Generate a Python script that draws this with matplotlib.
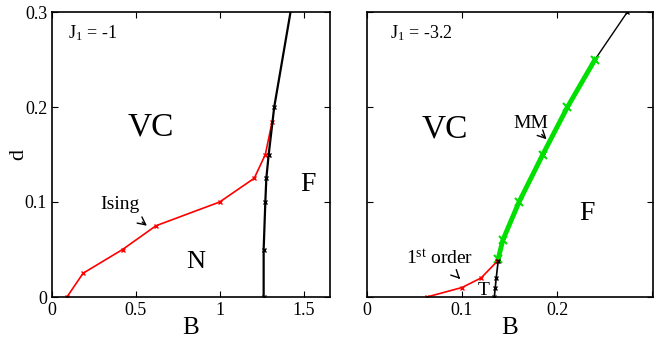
import matplotlib
matplotlib.use("Agg")
import matplotlib.pyplot as plt

plt.rcParams['font.family'] = ['Liberation Serif', 'DejaVu Serif']
plt.rcParams['mathtext.fontset'] = 'custom'
plt.rcParams['mathtext.rm'] = 'Liberation Serif'
plt.rcParams['mathtext.it'] = 'Liberation Serif'

# Left panel (J1 = -1)
ising_B = [0.089, 0.185, 0.42, 0.619, 0.998, 1.204, 1.27, 1.31]
ising_d = [0.0, 0.025, 0.05, 0.075, 0.10, 0.125, 0.15, 0.184]
fl_B = [1.26, 1.26, 1.27, 1.276, 1.29, 1.323, 1.42]
fl_d = [0.0, 0.05, 0.10, 0.125, 0.15, 0.20, 0.30]

# Right panel (J1 = -3.2)
first_B = [0.063, 0.10, 0.12, 0.137]
first_d = [0.0, 0.01, 0.02, 0.0375]
T_B = [0.134, 0.135, 0.136, 0.138]
T_d = [0.0, 0.01, 0.02, 0.0375]
mm_B = [0.138, 0.143, 0.16, 0.185, 0.211, 0.24]
mm_d = [0.04, 0.06, 0.10, 0.15, 0.20, 0.25]
top_B = [0.138, 0.143, 0.16, 0.185, 0.211, 0.24, 0.274]
top_d = [0.04, 0.06, 0.10, 0.15, 0.20, 0.25, 0.30]

fig = plt.figure(figsize=(6.59, 3.46), dpi=100)
axL = fig.add_axes([52/659, 1-297/346, (330-52)/659, (297-12)/346])
axR = fig.add_axes([367/659, 1-297/346, (653-367)/659, (297-12)/346])

for ax in (axL, axR):
    ax.tick_params(direction='in', top=True, right=True, labelsize=13, length=4)
    ax.set_ylim(0, 0.3)
    ax.set_yticks([0, 0.1, 0.2, 0.3])
    for s in ax.spines.values():
        s.set_linewidth(1.2)

axL.plot(ising_B, ising_d, color='red', lw=1.2, marker='x', ms=3.5, mew=1)
axL.plot(fl_B, fl_d, color='black', lw=1.6, marker='x', ms=3.5, mew=1,
         markevery=[0, 1, 2, 3, 4, 5])
axL.set_xlim(0, 1.655)
axL.set_xticks([0, 0.5, 1, 1.5])
axL.set_xticklabels(['0', '0.5', '1', '1.5'])
axL.set_yticklabels(['0', '0.1', '0.2', '0.3'])
axL.set_xlabel('B', fontsize=18, labelpad=-1)
axL.set_ylabel('d', fontsize=16)
axL.yaxis.set_label_coords(-0.086, 0.5)
axL.text(0.058, 0.926, r'J$_1$ = -1', transform=axL.transAxes, fontsize=13, va='center')
axL.text(0.59, 0.179, 'VC', fontsize=24, ha='center', va='center')
axL.text(0.857, 0.037, 'N', fontsize=19, ha='center', va='center')
axL.text(1.525, 0.118, 'F', fontsize=20, ha='center', va='center')
axL.annotate('Ising', xy=(0.565, 0.075), xytext=(0.405, 0.097), fontsize=14,
             ha='center', va='center',
             arrowprops=dict(arrowstyle='->', color='black', lw=1, shrinkA=7, shrinkB=0))

axR.plot(top_B, top_d, color='black', lw=1, marker='x', ms=3.5, mew=1)
axR.plot(mm_B, mm_d, color='#00e000', lw=3.5, marker='x', ms=6, mew=1.5)
axR.plot(first_B, first_d, color='red', lw=1.2, marker='x', ms=3.5, mew=1)
axR.plot(T_B, T_d, color='black', lw=1.2, marker='x', ms=3, mew=1)
axR.set_xlim(0, 0.301)
axR.set_xticks([0, 0.1, 0.2, 0.3])
axR.set_xticklabels(['0', '0.1', '0.2', ''])
axR.set_yticklabels([])
axR.set_xlabel('B', fontsize=18, labelpad=-1)
axR.text(0.08, 0.926, r'J$_1$ = -3.2', transform=axR.transAxes, fontsize=13, va='center')
axR.text(0.082, 0.177, 'VC', fontsize=24, ha='center', va='center')
axR.text(0.232, 0.088, 'F', fontsize=20, ha='center', va='center')
axR.annotate('MM', xy=(0.189, 0.166), xytext=(0.172, 0.183), fontsize=14,
             ha='center', va='center',
             arrowprops=dict(arrowstyle='->', color='black', lw=1, shrinkA=6, shrinkB=0))
axR.annotate(r'1$^{\rm st}$ order', xy=(0.098, 0.019), xytext=(0.076, 0.041), fontsize=14,
             ha='center', va='center',
             arrowprops=dict(arrowstyle='->', color='black', lw=1, shrinkA=7, shrinkB=0))
axR.text(0.123, 0.007, 'T', fontsize=14, ha='center', va='center')

fig.savefig('out.png', dpi=100)
